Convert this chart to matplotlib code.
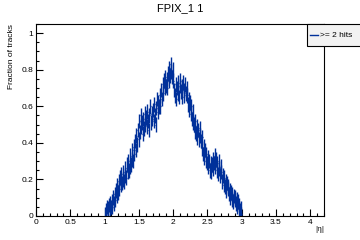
import matplotlib
matplotlib.use("Agg")
import matplotlib.pyplot as plt
import numpy as np
from matplotlib.patches import Rectangle
from matplotlib.lines import Line2D
from matplotlib.ticker import MultipleLocator, FixedLocator

plt.rcParams['font.family'] = ['Liberation Sans', 'DejaVu Sans']

bin_lo = 1.0
bin_width = 0.01
values = [
    0.01, 0.03, 0.00, 0.05, 0.02, 0.04, 0.06, 0.03, 0.07, 0.05,
    0.08, 0.05, 0.10, 0.07, 0.12, 0.09, 0.14, 0.11, 0.17, 0.13,
    0.19, 0.15, 0.21, 0.17, 0.23, 0.18, 0.20, 0.24, 0.19, 0.22,
    0.26, 0.21, 0.28, 0.24, 0.30, 0.25, 0.27, 0.33, 0.28, 0.31,
    0.36, 0.30, 0.38, 0.34, 0.41, 0.36, 0.44, 0.39, 0.47, 0.42,
    0.52, 0.46, 0.55, 0.49, 0.51, 0.45, 0.53, 0.48, 0.56, 0.50,
    0.54, 0.49, 0.57, 0.52, 0.47, 0.55, 0.60, 0.51, 0.56, 0.53,
    0.58, 0.52, 0.61, 0.55, 0.50, 0.59, 0.64, 0.57, 0.62, 0.60,
    0.66, 0.60, 0.69, 0.64, 0.72, 0.67, 0.74, 0.70, 0.76, 0.71,
    0.75, 0.70, 0.78, 0.74, 0.81, 0.77, 0.83, 0.79, 0.76, 0.80,
    0.74, 0.69, 0.66, 0.72, 0.64, 0.70, 0.67, 0.73, 0.65, 0.71,
    0.74, 0.68, 0.71, 0.65, 0.73, 0.69, 0.66, 0.72, 0.67, 0.70,
    0.66, 0.61, 0.64, 0.58, 0.62, 0.56, 0.60, 0.53, 0.57, 0.51,
    0.50, 0.46, 0.52, 0.45, 0.49, 0.43, 0.47, 0.42, 0.48, 0.44,
    0.41, 0.37, 0.43, 0.34, 0.38, 0.32, 0.36, 0.30, 0.34, 0.29,
    0.32, 0.27, 0.30, 0.25, 0.29, 0.24, 0.28, 0.31, 0.26, 0.29,
    0.33, 0.27, 0.31, 0.25, 0.29, 0.23, 0.30, 0.26, 0.22, 0.27,
    0.24, 0.19, 0.22, 0.17, 0.21, 0.16, 0.19, 0.14, 0.18, 0.15,
    0.16, 0.12, 0.14, 0.10, 0.13, 0.09, 0.12, 0.08, 0.11, 0.09,
    0.10, 0.07, 0.09, 0.05, 0.08, 0.04, 0.06, 0.03, 0.04, 0.01,
]
errors = [0.04] * len(values)
x_ticks = [0, 0.5, 1, 1.5, 2, 2.5, 3, 3.5, 4]
x_ticklabels = ["0", "0.5", "1", "1.5", "2", "2.5", "3", "3.5", "4"]
y_ticks = [0, 0.2, 0.4, 0.6, 0.8, 1.0]
y_ticklabels = ["0", "0.2", "0.4", "0.6", "0.8", "1"]

centers = bin_lo + bin_width * (np.arange(len(values)) + 0.5)
color = '#00309a'

fig = plt.figure(figsize=(3.6, 2.4), dpi=100)
ax = fig.add_axes([0.1, 0.1, 0.8, 0.8])
ax.errorbar(centers, values, yerr=errors, xerr=bin_width / 2, fmt='none',
            ecolor=color, elinewidth=1.0, capsize=0)
ax.set_xlim(0, 4.2)
ax.set_ylim(0, 1.05)

for s in ax.spines.values():
    s.set_linewidth(0.8)
ax.xaxis.set_major_locator(FixedLocator(x_ticks))
ax.set_xticklabels(x_ticklabels)
ax.yaxis.set_major_locator(FixedLocator(y_ticks))
ax.set_yticklabels(y_ticklabels)
ax.xaxis.set_minor_locator(MultipleLocator(0.1))
ax.yaxis.set_minor_locator(MultipleLocator(0.05))
ax.tick_params(which='both', direction='in', top=False, right=False,
               labelsize=6, width=0.8, pad=2)
ax.tick_params(which='major', length=5)
ax.tick_params(which='minor', length=2.5)

fig.text(0.5, 0.965, "FPIX_1 1", ha='center', va='center', fontsize=8)
fig.text(0.033, 0.9, "Fraction of tracks", rotation=90, ha='center', va='top', fontsize=6)
fig.text(0.9, 0.045, "|η|", ha='right', va='center', fontsize=6)

leg = Rectangle((0.853, 0.808), 0.2, 0.092, transform=fig.transFigure,
                facecolor='#f2f2f2', edgecolor='black', linewidth=0.8, zorder=10)
fig.patches.append(leg)
fig.lines.append(Line2D([0.86, 0.882], [0.854, 0.854], transform=fig.transFigure,
                        color=color, linewidth=1.0, zorder=11))
fig.text(0.888, 0.854, ">= 2 hits", ha='left', va='center', fontsize=6, zorder=11)

fig.savefig("out.png", dpi=100)
